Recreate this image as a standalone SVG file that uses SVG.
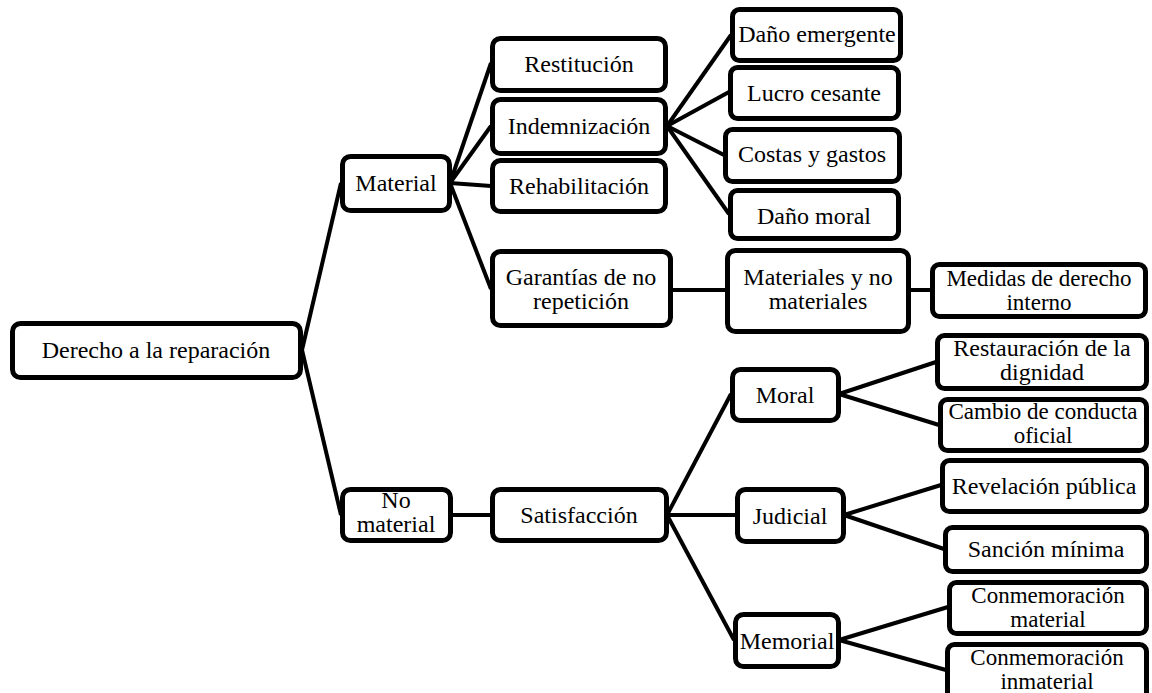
<svg xmlns="http://www.w3.org/2000/svg" width="1152" height="693" viewBox="0 0 1152 693">
<style>
.b{fill:#fff;stroke:#000;stroke-width:5;}
.c line{stroke:#000;stroke-width:4;}
</style>
<rect width="1152" height="693" fill="#fff"/>
<g class="c" id="connectors">
<line x1="302" y1="350" x2="341" y2="183"/>
<line x1="302" y1="350" x2="341" y2="515"/>
<line x1="450" y1="183" x2="491" y2="63"/>
<line x1="450" y1="183" x2="491" y2="126"/>
<line x1="450" y1="183" x2="491" y2="186"/>
<line x1="450" y1="183" x2="491" y2="289"/>
<line x1="667" y1="126" x2="731" y2="35"/>
<line x1="667" y1="126" x2="729" y2="92"/>
<line x1="667" y1="126" x2="724" y2="155"/>
<line x1="667" y1="126" x2="729" y2="214"/>
<line x1="671" y1="290" x2="726" y2="290"/>
<line x1="909" y1="290" x2="931" y2="290"/>
<line x1="451" y1="515" x2="491" y2="515"/>
<line x1="667" y1="515" x2="731" y2="394"/>
<line x1="667" y1="515" x2="736" y2="515"/>
<line x1="667" y1="515" x2="734" y2="640"/>
<line x1="839" y1="394" x2="936" y2="362"/>
<line x1="839" y1="394" x2="939" y2="425"/>
<line x1="844" y1="515" x2="941" y2="485"/>
<line x1="844" y1="515" x2="944" y2="549"/>
<line x1="839" y1="640" x2="948" y2="607"/>
<line x1="839" y1="640" x2="946" y2="670"/>
</g>
<g font-family="Liberation Serif" font-size="24" fill="#000" text-anchor="middle">
<g id="n-derecho"><rect class="b" x="12.5" y="323.5" width="288" height="54" rx="8"/><text x="156" y="358">Derecho a la reparación</text></g>
<g id="n-material"><rect class="b" x="342.5" y="156.5" width="107" height="54" rx="8"/><text x="396" y="191">Material</text></g>
<g id="n-nomaterial"><rect class="b" x="342.5" y="489.5" width="108" height="51" rx="8"/><text x="396" y="508">No</text><text x="396" y="532">material</text></g>
<g id="n-restitucion"><rect class="b" x="492.5" y="38.5" width="173" height="52" rx="8"/><text x="579" y="72">Restitución</text></g>
<g id="n-indemnizacion"><rect class="b" x="492.5" y="99.5" width="173" height="54" rx="8"/><text x="579" y="134">Indemnización</text></g>
<g id="n-rehabilitacion"><rect class="b" x="492.5" y="160.5" width="173" height="51" rx="8"/><text x="579" y="194">Rehabilitación</text></g>
<g id="n-garantias"><rect class="b" x="492.5" y="251.5" width="178" height="74" rx="8"/><text x="581" y="285">Garantías de no</text><text x="581" y="309">repetición</text></g>
<g id="n-satisfaccion"><rect class="b" x="492.5" y="489.5" width="174" height="51" rx="8"/><text x="579" y="523">Satisfacción</text></g>
<g id="n-dano-emergente"><rect class="b" x="732.5" y="9.5" width="168" height="51" rx="7"/><text x="817" y="42">Daño emergente</text></g>
<g id="n-lucro"><rect class="b" x="730.5" y="67.5" width="168" height="51" rx="7"/><text x="814" y="101">Lucro cesante</text></g>
<g id="n-costas"><rect class="b" x="725.5" y="129.5" width="174" height="52" rx="7"/><text x="812" y="162">Costas y gastos</text></g>
<g id="n-dano-moral"><rect class="b" x="730.5" y="190.5" width="168" height="48" rx="7"/><text x="814" y="224">Daño moral</text></g>
<g id="n-materiales"><rect class="b" x="727.5" y="250.5" width="181" height="81" rx="8"/><text x="818" y="285">Materiales y no</text><text x="818" y="309">materiales</text></g>
<g id="n-medidas"><rect class="b" x="932.5" y="264.5" width="213" height="52" rx="7"/><text x="1039" y="286" font-size="23">Medidas de derecho</text><text x="1039" y="310" font-size="23">interno</text></g>
<g id="n-moral"><rect class="b" x="732.5" y="369.5" width="106" height="51" rx="8"/><text x="785" y="403">Moral</text></g>
<g id="n-judicial"><rect class="b" x="737.5" y="489.5" width="106" height="52" rx="8"/><text x="790" y="524">Judicial</text></g>
<g id="n-memorial"><rect class="b" x="735.5" y="614.5" width="103" height="52" rx="8"/><text x="787" y="649">Memorial</text></g>
<g id="n-restauracion"><rect class="b" x="937.5" y="335.5" width="209" height="53" rx="7"/><text x="1042" y="356">Restauración de la</text><text x="1042" y="380">dignidad</text></g>
<g id="n-cambio"><rect class="b" x="940.5" y="399.5" width="206" height="51" rx="7"/><text x="1043" y="419" font-size="23">Cambio de conducta</text><text x="1043" y="443" font-size="23">oficial</text></g>
<g id="n-revelacion"><rect class="b" x="942.5" y="460.5" width="204" height="51" rx="7"/><text x="1044" y="494">Revelación pública</text></g>
<g id="n-sancion"><rect class="b" x="945.5" y="527.5" width="201" height="44" rx="7"/><text x="1046" y="557">Sanción mínima</text></g>
<g id="n-conm-material"><rect class="b" x="949.5" y="582.5" width="197" height="51" rx="7"/><text x="1048" y="603" font-size="23">Conmemoración</text><text x="1048" y="627" font-size="23">material</text></g>
<g id="n-conm-inmaterial"><rect class="b" x="947.5" y="644.5" width="199" height="56" rx="7"/><text x="1047" y="665" font-size="23">Conmemoración</text><text x="1047" y="689" font-size="23">inmaterial</text></g>
</g>
</svg>
